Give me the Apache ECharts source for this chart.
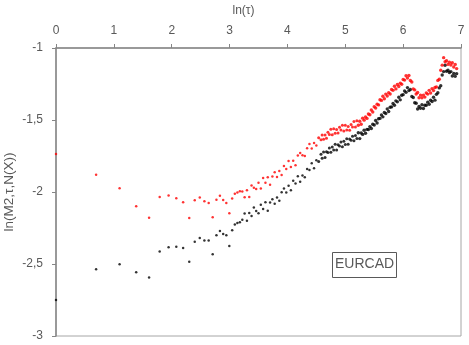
<!DOCTYPE html>
<html>
<head>
<meta charset="utf-8">
<script src="https://cdn.jsdelivr.net/npm/echarts@6/dist/echarts.min.js"></script>
<style>
  html, body { margin: 0; padding: 0; background: #fff; }
  #chart { width: 469px; height: 345px; }
</style>
</head>
<body>
<div id="chart"></div>
<script>
// ln(tau) positions shared by both series
const lnTau = [
  0, 0.693, 1.099, 1.386, 1.609, 1.792, 1.946, 2.079, 2.197, 2.303, 2.398, 2.485,
  2.565, 2.639, 2.708, 2.773, 2.833, 2.890, 2.944, 2.996, 3.045, 3.091, 3.135, 3.178,
  3.22, 3.26, 3.30, 3.34, 3.38, 3.42, 3.46, 3.50, 3.54, 3.58, 3.62, 3.66, 3.70, 3.74,
  3.78, 3.82, 3.86, 3.90, 3.94, 3.98, 4.02, 4.06, 4.10, 4.14, 4.18, 4.22, 4.26, 4.30,
  4.34, 4.38, 4.42, 4.46, 4.50, 4.54, 4.58,
  4.600, 4.625, 4.650, 4.675, 4.700, 4.725, 4.750, 4.775, 4.800, 4.825, 4.850, 4.875,
  4.900, 4.925, 4.950, 4.975, 5.000, 5.025, 5.050, 5.075, 5.100, 5.125, 5.150, 5.175,
  5.200, 5.225, 5.250, 5.275, 5.300, 5.325, 5.350, 5.375, 5.400, 5.425, 5.450, 5.475,
  5.500, 5.525, 5.550, 5.575, 5.600, 5.625, 5.650, 5.675, 5.700, 5.725, 5.750, 5.775,
  5.800, 5.825, 5.850, 5.875, 5.900, 5.925, 5.950, 5.975, 6.000, 6.025, 6.050, 6.075,
  6.100, 6.125, 6.150, 6.175, 6.200, 6.225, 6.250, 6.275, 6.300, 6.325, 6.350, 6.375,
  6.400, 6.425, 6.450, 6.475, 6.500, 6.525, 6.550, 6.575, 6.600, 6.625, 6.650, 6.675,
  6.700, 6.725, 6.750, 6.775, 6.800, 6.825, 6.850, 6.875, 6.900, 6.925
];

// red series
const redValues = [
  -1.736, -1.880, -1.974, -2.099, -2.178, -2.035, -2.025, -2.044, -2.072, -2.181, -2.058, -2.039,
  -2.065, -2.076, -2.176, -2.053, -2.026, -2.056, -2.076, -2.148, -2.046, -2.012, -2.004, -1.995,
  -1.996, -2.037, -1.988, -2.034, -1.955, -1.970, -1.980, -1.935, -1.976, -1.903, -1.936, -1.898,
  -1.950, -1.893, -1.862, -1.896, -1.854, -1.882, -1.819, -1.841, -1.784, -1.826, -1.783, -1.815,
  -1.747, -1.729, -1.745, -1.750, -1.696, -1.667, -1.698, -1.660, -1.677, -1.624, -1.638,
  -1.604, -1.633, -1.605, -1.627, -1.585, -1.601, -1.564, -1.602, -1.561, -1.592, -1.566, -1.590,
  -1.550, -1.570, -1.536, -1.576, -1.537, -1.570, -1.546, -1.572, -1.531, -1.548, -1.511, -1.548,
  -1.506, -1.536, -1.509, -1.529, -1.487, -1.501, -1.479, -1.489, -1.458, -1.464, -1.431, -1.444,
  -1.408, -1.417, -1.390, -1.395, -1.359, -1.364, -1.335, -1.352, -1.320, -1.333, -1.310, -1.319,
  -1.288, -1.294, -1.266, -1.284, -1.253, -1.267, -1.244, -1.252, -1.219, -1.223, -1.193, -1.209,
  -1.191, -1.226, -1.236, -1.284, -1.291, -1.319, -1.309, -1.345, -1.327, -1.345, -1.327, -1.341,
  -1.312, -1.320, -1.294, -1.313, -1.282, -1.296, -1.274, -1.270, -1.225, -1.217, -1.154, -1.119,
  -1.067, -1.096, -1.089, -1.114, -1.099, -1.118, -1.102, -1.132, -1.114, -1.143
];

// black series
const blackValues = [
  -2.750, -2.537, -2.502, -2.558, -2.593, -2.414, -2.384, -2.380, -2.389, -2.484, -2.345, -2.319,
  -2.336, -2.336, -2.433, -2.301, -2.271, -2.292, -2.301, -2.375, -2.266, -2.225, -2.215, -2.210,
  -2.193, -2.149, -2.200, -2.146, -2.166, -2.107, -2.132, -2.147, -2.089, -2.118, -2.071, -2.130,
  -2.073, -2.050, -2.082, -2.039, -2.061, -2.001, -1.975, -2.004, -1.957, -1.988, -1.922, -1.941,
  -1.890, -1.929, -1.885, -1.898, -1.840, -1.847, -1.801, -1.835, -1.779, -1.788, -1.738,
  -1.766, -1.723, -1.760, -1.720, -1.725, -1.694, -1.724, -1.687, -1.709, -1.669, -1.709, -1.672,
  -1.681, -1.653, -1.685, -1.648, -1.670, -1.630, -1.669, -1.632, -1.640, -1.612, -1.644, -1.607,
  -1.629, -1.589, -1.629, -1.590, -1.600, -1.571, -1.592, -1.565, -1.566, -1.546, -1.559, -1.529,
  -1.535, -1.503, -1.521, -1.491, -1.489, -1.465, -1.478, -1.448, -1.455, -1.423, -1.441, -1.411,
  -1.409, -1.385, -1.398, -1.367, -1.374, -1.342, -1.360, -1.328, -1.324, -1.298, -1.308, -1.275,
  -1.296, -1.288, -1.337, -1.344, -1.380, -1.384, -1.424, -1.406, -1.418, -1.394, -1.420, -1.398,
  -1.398, -1.376, -1.391, -1.363, -1.372, -1.342, -1.362, -1.322, -1.311, -1.277, -1.262, -1.187,
  -1.164, -1.120, -1.161, -1.155, -1.170, -1.164, -1.194, -1.177, -1.197, -1.178
];

const xTicks = { min: 0, max: 7, interval: 1 };
const yTicks = { min: -3, max: -1, interval: 0.5 };
const boxLabel = 'EURCAD';

const textColor = '#595959';
const axisColor = '#868686';

const chart = echarts.init(document.getElementById('chart'), null, { renderer: 'canvas' });

const toPairs = (ys) => lnTau.map((x, i) => [x, ys[i]]);

// points get bigger where the series becomes dense
const pointSize = (v) => (v[0] > 5.2 ? 3.4 : v[0] > 4.5 ? 3 : 2.5);

const option = {
  backgroundColor: '#fff',
  animation: false,
  textStyle: { fontFamily: 'Liberation Sans, Arial, sans-serif' },
  grid: {
    left: 56,
    right: 8,
    top: 48,
    bottom: 9,
    outerBoundsMode: 'none',
    containLabel: false,
    show: true,
    borderColor: '#a6a6a6',
    borderWidth: 1
  },
  xAxis: {
    type: 'value',
    position: 'top',
    min: xTicks.min,
    max: xTicks.max,
    interval: xTicks.interval,
    name: 'ln(τ)',
    nameLocation: 'middle',
    nameGap: 31,
    nameTextStyle: { color: textColor, fontSize: 12, padding: [0, 30, 0, 0] },
    axisLine: { onZero: false, lineStyle: { color: axisColor, width: 1.5 } },
    axisTick: { show: true, length: 4, lineStyle: { color: axisColor } },
    axisLabel: { color: textColor, fontSize: 12, margin: 11 },
    splitLine: { show: false }
  },
  yAxis: {
    type: 'value',
    min: yTicks.min,
    max: yTicks.max,
    interval: yTicks.interval,
    name: 'ln(M2,τ,N(X))',
    nameLocation: 'middle',
    nameGap: 40,
    nameMoveOverlap: false,
    nameTextStyle: { color: textColor, fontSize: 13.5 },
    axisLine: { show: true, onZero: false, lineStyle: { color: axisColor, width: 1.5 } },
    axisTick: { show: true, length: 4, lineStyle: { color: axisColor } },
    axisLabel: {
      color: textColor,
      fontSize: 12,
      margin: 13,
      formatter: (v) => String(v).replace('.', ',')
    },
    splitLine: { show: false }
  },
  series: [
    {
      name: 'black',
      type: 'scatter',
      symbol: 'circle',
      symbolSize: pointSize,
      itemStyle: { color: '#000000' },
      data: toPairs(blackValues)
    },
    {
      name: 'red',
      type: 'scatter',
      symbol: 'circle',
      symbolSize: pointSize,
      itemStyle: { color: '#ff0000' },
      data: toPairs(redValues)
    }
  ],
  graphic: [
    {
      type: 'rect',
      left: 332,
      top: 252,
      shape: { width: 64, height: 25 },
      style: { fill: '#fff', stroke: '#595959', lineWidth: 1 }
    },
    {
      type: 'text',
      left: 335,
      top: 257,
      style: {
        text: boxLabel,
        fill: textColor,
        font: '14px Liberation Sans, Arial, sans-serif'
      }
    }
  ]
};

chart.setOption(option);
</script>
</body>
</html>
